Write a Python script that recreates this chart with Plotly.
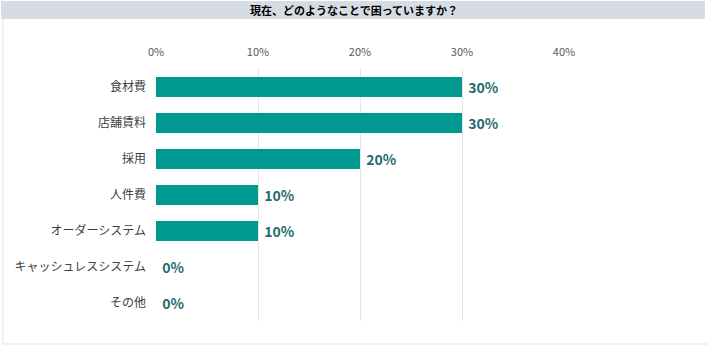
import plotly.graph_objects as go

categories = ["食材費", "店舗賃料", "採用", "人件費", "オーダーシステム", "キャッシュレスシステム", "その他"]
values = [30, 30, 20, 10, 10, 0, 0]
tick_vals = [0, 10, 20, 30, 40]
tick_text = ["0%", "10%", "20%", "30%", "40%"]
title_text = "現在、どのようなことで困っていますか？"

W, H = 709, 356
L, R, T, B = 156, 145, 69, 35
pw, ph = W - L - R, H - T - B

def px_x(p):
    return (p - L) / pw

def px_y(p):
    return (H - B - p) / ph

fig = go.Figure(go.Bar(
    x=values, y=categories, orientation="h",
    marker=dict(color="#009990", line=dict(width=0)),
    text=[f" {v}%" for v in values],
    textposition="outside",
    textfont=dict(family="Noto Sans CJK JP", size=14, color="#1f6b6b", weight="bold"),
    cliponaxis=False,
    width=0.56,
    hoverinfo="skip",
))

fig.update_layout(
    width=W, height=H,
    margin=dict(l=L, r=R, t=T, b=B, pad=0),
    paper_bgcolor="white", plot_bgcolor="white",
    font=dict(family="Noto Sans CJK JP", color="#404040"),
    showlegend=False,
    xaxis=dict(range=[0, 40], side="top", tickvals=tick_vals, ticktext=tick_text,
               showgrid=True, gridcolor="#e6e6e6", gridwidth=1, zeroline=False,
               tickfont=dict(size=11, color="#595959"), ticks="", fixedrange=True,
               ticklabelstandoff=10),
    yaxis=dict(autorange="reversed", showgrid=False, zeroline=False, fixedrange=True,
               tickfont=dict(size=12, color="#404040"), ticks="", ticklabelstandoff=9),
    shapes=[
        dict(type="rect", xref="paper", yref="paper", x0=px_x(1), x1=px_x(705),
             y0=px_y(19), y1=px_y(1), fillcolor="#d6dce4", line=dict(width=0), layer="below"),
        dict(type="line", xref="paper", yref="paper", x0=px_x(3), x1=px_x(3),
             y0=px_y(344), y1=px_y(19), line=dict(color="#e3e3e3", width=1)),
        dict(type="line", xref="paper", yref="paper", x0=px_x(3), x1=px_x(708),
             y0=px_y(344), y1=px_y(344), line=dict(color="#e3e3e3", width=1)),
    ],
    annotations=[
        dict(text=title_text, xref="paper", yref="paper", x=px_x(354), y=px_y(10),
             xanchor="center", yanchor="middle", showarrow=False,
             font=dict(family="Noto Sans CJK JP", size=11, color="#000000", weight="bold")),
    ],
)

fig.write_html("out.html", config={"displayModeBar": False},
               post_script="document.body.style.margin='0';document.body.style.padding='0';")
